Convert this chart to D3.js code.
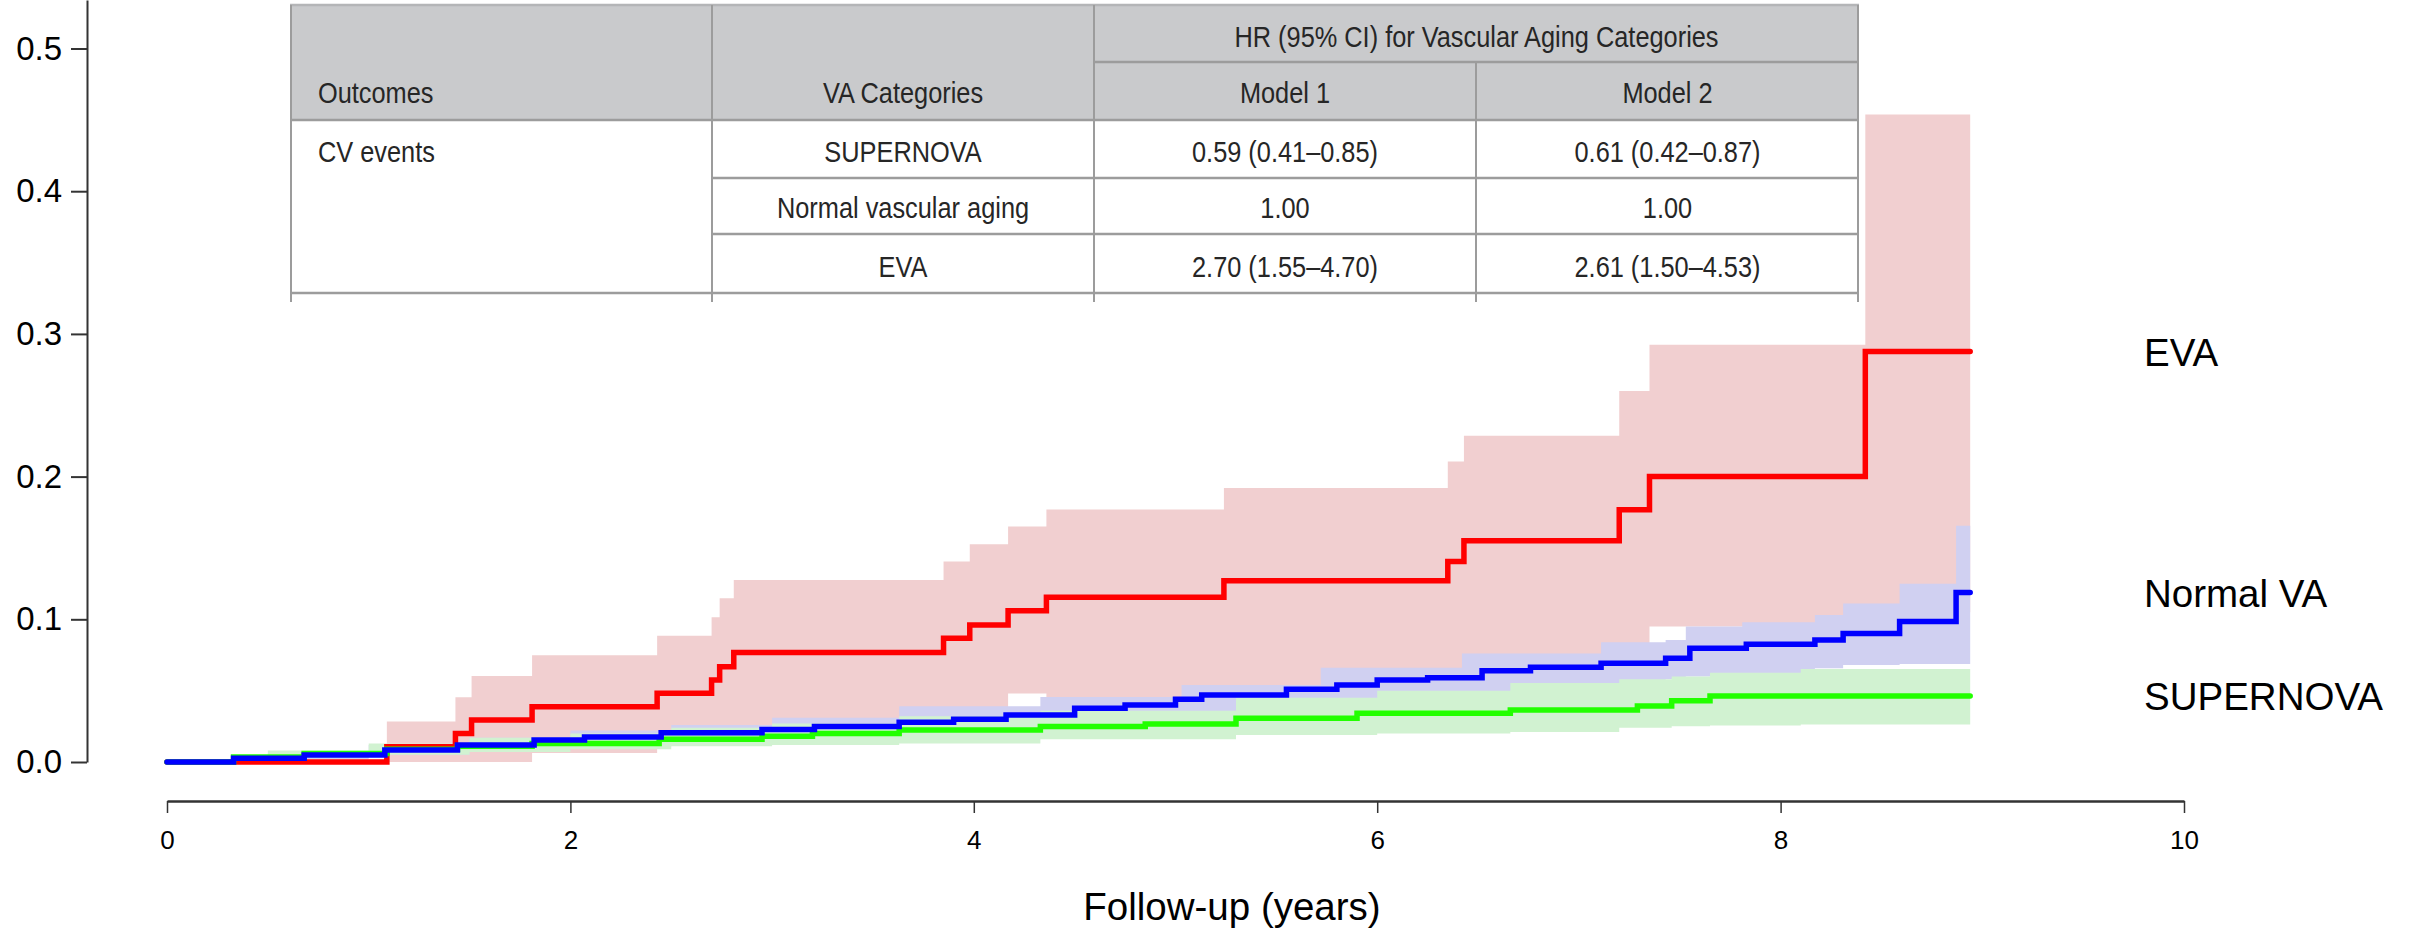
<!DOCTYPE html>
<html>
<head>
<meta charset="utf-8">
<script src="https://cdn.jsdelivr.net/npm/d3@7"></script>
<style>
body { margin: 0; background: #fff; }
svg { display: block; }
.axis text { font-family: "Liberation Sans", Arial, Helvetica, sans-serif; fill: #000; }
.tbl text { font-family: "Liberation Sans", Arial, sans-serif; font-size: 30px; fill: #262626; }
</style>
</head>
<body>
<div id="chart"></div>
<script>
// sizes
const WIDTH = 2412
const HEIGHT = 931

// axis ticks
const xTicks = [0, 2, 4, 6, 8, 10];
const yTicks = [0, 0.1, 0.2, 0.3, 0.4, 0.5];
const xTitle = "Follow-up (years)";

// EVA (red): cumulative incidence steps and 95% CI
const evaTimes  = [0, 1.09, 1.43, 1.51, 1.81, 2.43, 2.70, 2.74, 2.81, 3.85, 3.98, 4.17, 4.36, 5.24, 6.35, 6.43, 7.20, 7.35, 8.42, 8.94];
const evaValues = [0, 0.0107, 0.020, 0.0295, 0.0388, 0.0482, 0.0575, 0.0668, 0.0767, 0.0867, 0.096, 0.106, 0.1155, 0.127, 0.1405, 0.155, 0.1767, 0.200, 0.2877, 0.2877];
const evaBandTimes = [1.09, 1.43, 1.51, 1.81, 2.43, 2.70, 2.74, 2.81, 3.85, 3.98, 4.17, 4.36, 5.24, 6.35, 6.43, 7.20, 7.35, 8.42, 8.94];
const evaUpper = [0.0283, 0.0454, 0.0603, 0.0748, 0.0884, 0.1015, 0.1148, 0.1276, 0.1405, 0.1526, 0.165, 0.177, 0.192, 0.2106, 0.2286, 0.260, 0.2924, 0.4537, 0.4537];
const evaLower = [0, 0, 0, 0.0063, 0.012, 0.015, 0.018, 0.02, 0.028, 0.033, 0.048, 0.043, 0.05, 0.055, 0.062, 0.072, 0.095, 0.105, 0.105];

// Normal VA (blue)
const normTimes  = [0, 0.33, 0.68, 1.08, 1.44, 1.82, 2.07, 2.45, 2.95, 3.21, 3.63, 3.90, 4.16, 4.50, 4.75, 5.00, 5.13, 5.55, 5.80, 6.00, 6.25, 6.52, 6.76, 7.11, 7.43, 7.55, 7.83, 8.17, 8.31, 8.59, 8.87, 8.94];
const normValues = [0, 0.0026, 0.0049, 0.0084, 0.0119, 0.0154, 0.0175, 0.0205, 0.0228, 0.0248, 0.0278, 0.030, 0.033, 0.0376, 0.040, 0.044, 0.047, 0.051, 0.054, 0.0575, 0.059, 0.064, 0.0664, 0.0692, 0.0727, 0.0797, 0.0825, 0.0855, 0.090, 0.0984, 0.1188, 0.1188];
const normBandTimes = [0, 0.5, 1.0, 1.5, 2.0, 2.5, 3.0, 3.63, 4.33, 5.03, 5.72, 6.42, 7.11, 7.43, 7.53, 7.81, 8.17, 8.31, 8.59, 8.87, 8.94];
const normUpper = [0.001, 0.006, 0.012, 0.017, 0.022, 0.026, 0.031, 0.039, 0.0455, 0.054, 0.066, 0.076, 0.084, 0.0855, 0.095, 0.098, 0.103, 0.111, 0.125, 0.1655, 0.1655];
const normLower = [0, 0.002, 0.005, 0.008, 0.011, 0.013, 0.016, 0.019, 0.023, 0.030, 0.036, 0.042, 0.050, 0.058, 0.060, 0.062, 0.0657, 0.068, 0.0687, 0.0687, 0.0687];

// SUPERNOVA (green)
const superTimes  = [0, 0.33, 0.68, 1.09, 1.44, 1.81, 2.44, 2.95, 3.20, 3.63, 4.33, 4.85, 5.30, 5.90, 6.66, 7.29, 7.46, 7.65, 8.94];
const superValues = [0, 0.0035, 0.006, 0.009, 0.011, 0.013, 0.016, 0.018, 0.020, 0.0224, 0.0248, 0.0266, 0.0306, 0.0341, 0.0365, 0.0393, 0.043, 0.0463, 0.0463];
const superBandTimes = [0, 0.5, 1.0, 1.5, 2.0, 2.5, 3.0, 3.63, 4.33, 5.30, 6.00, 6.66, 7.20, 7.46, 7.65, 8.10, 8.94];
const superUpper = [0.002, 0.008, 0.013, 0.017, 0.020, 0.024, 0.027, 0.032, 0.036, 0.045, 0.050, 0.0553, 0.058, 0.060, 0.0626, 0.0652, 0.0652];
const superLower = [0, 0.003, 0.005, 0.007, 0.009, 0.011, 0.012, 0.013, 0.016, 0.019, 0.020, 0.021, 0.024, 0.025, 0.0255, 0.0263, 0.0263];

const seriesLabels = ["EVA", "Normal VA", "SUPERNOVA"];

// table contents
const hrHeader = "HR (95% CI) for Vascular Aging Categories";
const tableHeader = ["Outcomes", "VA Categories", "Model 1", "Model 2"];
const outcomeLabel = "CV events";
const vaCategories = ["SUPERNOVA", "Normal vascular aging", "EVA"];
const model1HR = ["0.59 (0.41\u20130.85)", "1.00", "2.70 (1.55\u20134.70)"];
const model2HR = ["0.61 (0.42\u20130.87)", "1.00", "2.61 (1.50\u20134.53)"];

const SVG = d3.select("#chart")
	.append("svg")
		.attr("width", WIDTH)
		.attr("height", HEIGHT);

const X = d3.scaleLinear().domain([0, 10]).range([167, 2184]);
const Y = d3.scaleLinear().domain([0, 0.534]).range([762, 0]);

// confidence bands, drawn first
function band(times, lower, upper, color) {
	const pts = times.map((t, i) => ({t: t, lo: lower[i], hi: upper[i]}));
	SVG.append("path")
		.datum(pts)
		.attr("fill", color)
		.attr("d", d3.area()
			.curve(d3.curveStepAfter)
			.x(d => X(d.t))
			.y0(d => Y(d.lo))
			.y1(d => Y(d.hi)));
}
band(evaBandTimes, evaLower, evaUpper, "#f1cfd0");
band(normBandTimes, normLower, normUpper, "#d0d0f1");
band(superBandTimes, superLower, superUpper, "#d1f2d1");

// step lines
function steps(times, values, color) {
	const pts = times.map((t, i) => ({t: t, v: values[i]}));
	SVG.append("path")
		.datum(pts)
		.attr("fill", "none")
		.attr("stroke", color)
		.attr("stroke-width", 5.5)
		.attr("stroke-linecap", "round")
		.attr("d", d3.line()
			.curve(d3.curveStepAfter)
			.x(d => X(d.t))
			.y(d => Y(d.v)));
}
steps(evaTimes, evaValues, "#ff0000");
steps(superTimes, superValues, "#22ff00");
steps(normTimes, normValues, "#0000ff");

// curve labels at the right
const lastValues = [evaValues[evaValues.length - 1], normValues[normValues.length - 1], superValues[superValues.length - 1]];
SVG.selectAll(".series-label")
	.data(seriesLabels)
	.enter()
	.append("text")
		.attr("class", "series-label")
		.attr("x", 2144)
		.attr("y", (d, i) => Y(lastValues[i]))
		.attr("dy", "0.37em")
		.style("font-family", '"Liberation Sans", Arial, sans-serif')
		.style("font-size", "38.5px")
		.text(d => d);

// axes
const yAxis = SVG.append("g")
	.attr("class", "axis")
	.attr("transform", "translate(87,0)")
	.call(d3.axisLeft(Y).tickValues(yTicks).tickFormat(d3.format(".1f"))
		.tickSize(16).tickPadding(9).tickSizeOuter(0));
yAxis.selectAll("text").style("font-size", "33px");
yAxis.selectAll("path, line").attr("stroke", "#333").attr("stroke-width", 2);

const xAxis = SVG.append("g")
	.attr("class", "axis")
	.attr("transform", "translate(0,801)")
	.call(d3.axisBottom(X).tickValues(xTicks).tickFormat(d3.format("d"))
		.tickSize(12).tickPadding(18).tickSizeOuter(0));
xAxis.selectAll("text").style("font-size", "26px");
xAxis.select(".domain").attr("stroke", "#333").attr("stroke-width", 2.5);
xAxis.selectAll(".tick line").attr("stroke", "#333").attr("stroke-width", 1.5);

SVG.append("text")
	.attr("x", 1232)
	.attr("y", 920)
	.attr("text-anchor", "middle")
	.style("font-family", '"Liberation Sans", Arial, sans-serif')
	.style("font-size", "38.5px")
	.text(xTitle);

// table in the top left
const colX = [290, 712, 1094, 1476, 1859];
const rowY = [5, 62, 120, 178, 234, 293];
const TBL = SVG.append("g").attr("class", "tbl");

TBL.append("rect").attr("x", colX[0]).attr("y", rowY[0])
	.attr("width", colX[4] - colX[0]).attr("height", rowY[2] - rowY[0]).attr("fill", "#c9cacc");
TBL.append("rect").attr("x", colX[0]).attr("y", rowY[2])
	.attr("width", colX[4] - colX[0]).attr("height", rowY[5] - rowY[2]).attr("fill", "#fff");

const hLines = [
	{y: rowY[0], x1: colX[0], x2: colX[4], c: "#b4b5b7"},
	{y: rowY[1], x1: colX[2], x2: colX[4], c: "#9c9c9c"},
	{y: rowY[2], x1: colX[0], x2: colX[4], c: "#9c9c9c"},
	{y: rowY[3], x1: colX[1], x2: colX[4], c: "#9c9c9c"},
	{y: rowY[4], x1: colX[1], x2: colX[4], c: "#9c9c9c"},
	{y: rowY[5], x1: colX[0], x2: colX[4], c: "#9c9c9c"}
];
TBL.selectAll(".hl").data(hLines).enter().append("line")
	.attr("x1", d => d.x1).attr("x2", d => d.x2)
	.attr("y1", d => d.y).attr("y2", d => d.y)
	.attr("stroke", d => d.c).attr("stroke-width", 2.5);

const vLines = [
	{x: colX[0] + 1, y1: rowY[0]}, {x: colX[1], y1: rowY[0]}, {x: colX[2], y1: rowY[0]},
	{x: colX[3], y1: rowY[1]}, {x: colX[4] - 1, y1: rowY[0]}
];
TBL.selectAll(".vl").data(vLines).enter().append("line")
	.attr("x1", d => d.x).attr("x2", d => d.x)
	.attr("y1", d => d.y1).attr("y2", 302)
	.attr("stroke", "#9c9c9c").attr("stroke-width", 2);

// condensed look: squeeze the text horizontally
function cell(txt, x, y, anchor) {
	TBL.append("text")
		.attr("transform", "translate(" + x + "," + y + ") scale(0.845,1)")
		.attr("text-anchor", anchor)
		.text(txt);
}
const mid = (a, b) => (a + b) / 2;
cell(hrHeader, mid(colX[2], colX[4]), rowY[1] - 15, "middle");

tableHeader.forEach((h, i) => {
	if (i === 0) cell(h, colX[0] + 28, rowY[2] - 17, "start");
	else cell(h, mid(colX[i], colX[i + 1]), rowY[2] - 17, "middle");
});

cell(outcomeLabel, colX[0] + 28, rowY[3] - 16, "start");

vaCategories.forEach((c, i) => {
	const yb = rowY[i + 3] - 16;
	cell(c, mid(colX[1], colX[2]), yb, "middle");
	cell(model1HR[i], mid(colX[2], colX[3]), yb, "middle");
	cell(model2HR[i], mid(colX[3], colX[4]), yb, "middle");
});
</script>
</body>
</html>
